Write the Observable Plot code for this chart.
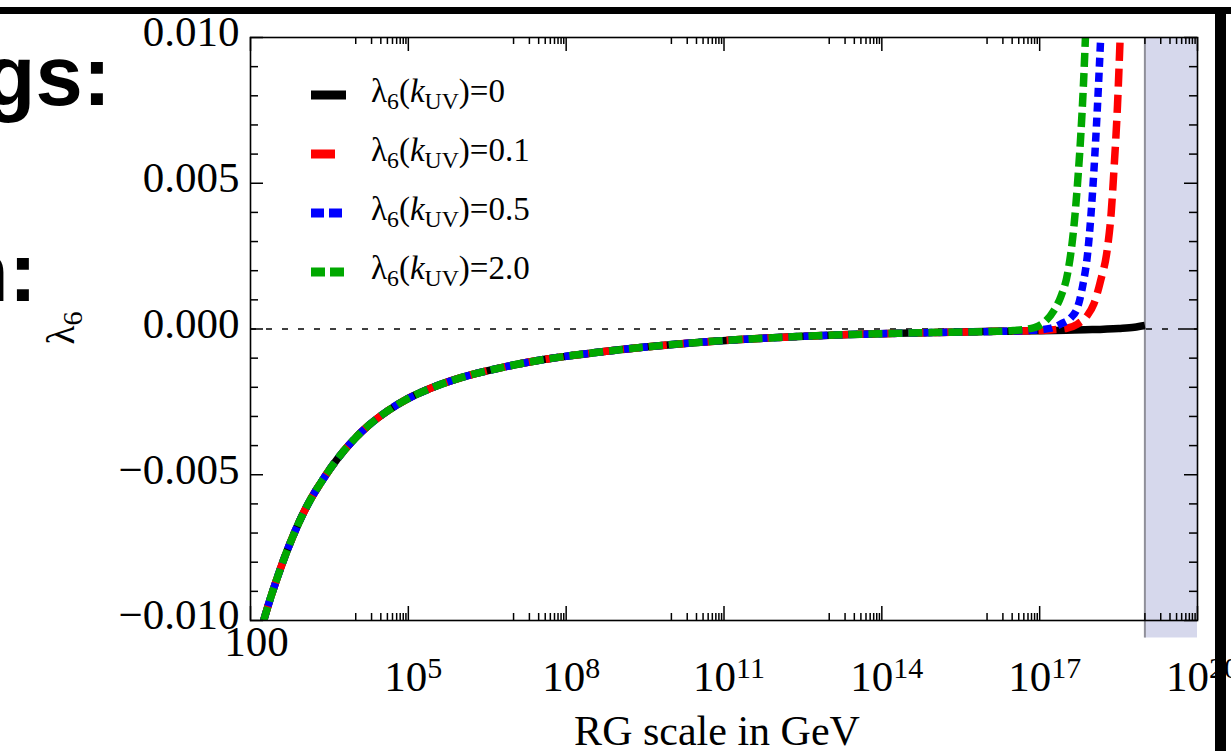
<!DOCTYPE html>
<html><head><meta charset="utf-8">
<script src="https://cdn.jsdelivr.net/npm/d3@7"></script>
<script src="https://cdn.jsdelivr.net/npm/@observablehq/plot@0.6"></script>
<style>
html,body{margin:0;padding:0;background:#fff;overflow:hidden}
#wrap{position:relative;width:1231px;height:751px;overflow:hidden}
#wrap svg.plot{position:absolute;left:0;top:0}
.ov{position:absolute;white-space:nowrap;color:#000}
.serif{font-family:"Liberation Serif","Times New Roman",serif}
.sans{font-family:"Liberation Sans",Arial,sans-serif;font-weight:bold}
.sub{font-size:0.72em;position:relative;top:0.28em}
</style></head><body><div id="wrap"></div>
<script>
// ---- data (log10 of RG scale in GeV, lambda6 value) ----
const commonLog = [2.25,2.35,2.50,2.65,2.80,2.95,3.15,3.37,3.65,3.94,4.25,4.59,5.0,5.4,6.0,6.73,7.6,8.6,9.5,10.5,11.5,12.4,13.4,14.3,15.3,16.2];
const commonVal = [-0.0100,-0.00940,-0.00858,-0.00782,-0.00714,-0.00652,-0.00582,-0.00518,-0.00446,-0.00384,-0.00330,-0.00283,-0.00238,-0.00205,-0.00167,-0.00134,-0.00104,-0.00080,-0.00062,-0.00046,-0.00034,-0.00026,-0.00019,-0.00015,-0.00011,-0.00008];
const blackTailLog = [17.0,17.5,18.0,18.5,18.8,19.0];
const blackTailVal = [-0.00006,-0.00004,-0.00002,0.00002,0.00006,0.00012];
const redTailLog = [17.0,17.5,17.72,17.9,18.03,18.15,18.29,18.36,18.41,18.48,18.53];
const redTailVal = [-0.00005,0.00002,0.00017,0.00045,0.00086,0.0016,0.0028,0.0040,0.0054,0.0077,0.0100];
const blueTailLog = [16.8,17.2,17.4,17.6,17.72,17.82,17.91,17.97,18.03,18.10,18.16];
const blueTailVal = [-0.00005,0.00002,0.00017,0.0004,0.00074,0.0015,0.00257,0.0038,0.0054,0.0077,0.0100];
const greenTailLog = [16.5,16.9,17.1,17.27,17.4,17.53,17.65,17.72,17.78,17.83,17.87];
const greenTailVal = [-0.00005,0.00005,0.00025,0.00063,0.0011,0.0019,0.0035,0.0050,0.0066,0.0083,0.0100];

const seriesLabels = ["0","0.1","0.5","2.0"];
const seriesColors = ["#000000","#ff0000","#0000ff","#00a800"];
const seriesDash = [null,"18,8","9,6","14,6"];
const legendDash = [null,"24,20","13,5","14,5"];

const xMajorExp = [2,5,8,11,14,17,20];
const xMinorExp = [4,7,10,13,16,19];
const minorMult = [1,2,3,4,5,6,7,8,9];
const yMajor = [-0.010,-0.005,0,0.005,0.010];
const yMinor = [-0.009,-0.008,-0.007,-0.006,-0.004,-0.003,-0.002,-0.001,0.001,0.002,0.003,0.004,0.006,0.007,0.008,0.009];
const shadeX = [1e19,1e20];
const shadeY = [-0.0106,0.0100];

// ---- layout ----
const W = 1231, H = 751;
const mL = 250, mR = 34, mT = 37, mB = 131;
const pW = W - mL - mR, pH = H - mT - mB;

function build(logs, vals){ return logs.map((l,i)=>({k: 10**l, v: vals[i]})); }
const tails = [[blackTailLog,blackTailVal],[redTailLog,redTailVal],[blueTailLog,blueTailVal],[greenTailLog,greenTailVal]];
const series = tails.map(([l,v]) => build(commonLog.concat(l), commonVal.concat(v)));

const xMajor = xMajorExp.map(e => 10**e);
const xMinor = xMinorExp.flatMap(e => minorMult.map(m => m * 10**e));

const serif = '"Liberation Serif","Times New Roman",serif';

const lines = series.map((d,i) => Plot.line(d, {
  x: "k", y: "v", stroke: seriesColors[i], strokeWidth: 7.5,
  strokeDasharray: seriesDash[i] ?? undefined, strokeLinecap: "butt",
  curve: "monotone-x", clip: true
}));

const chart = Plot.plot({
  width: W, height: H,
  marginLeft: mL, marginRight: mR, marginTop: mT, marginBottom: mB,
  style: {background: "transparent", overflow: "visible"},
  x: {type: "log", domain: [1e2, 1e20]},
  y: {domain: [-0.01, 0.01]},
  marks: [
    Plot.rect([{x1: shadeX[0], x2: shadeX[1], y1: shadeY[0], y2: shadeY[1]}], {x1:"x1", x2:"x2", y1:"y1", y2:"y2", fill: "#d6d8ec"}),
    Plot.ruleX([shadeX[0]], {y1: shadeY[0], y2: shadeY[1], stroke: "#8f8f99", strokeWidth: 2}),
    Plot.ruleY([0], {stroke: "#000", strokeWidth: 1.6, strokeDasharray: "6,10"}),
    ...lines,
    Plot.frame({stroke: "#000", strokeWidth: 1.6}),
    // y ticks (left & right, inward)
    Plot.tickY(yMajor, {y: d => d, insetRight: pW - 13, strokeWidth: 1.5}),
    Plot.tickY(yMinor, {y: d => d, insetRight: pW - 8, strokeWidth: 1.5}),
    Plot.tickY(yMajor, {y: d => d, insetLeft: pW - 13, strokeWidth: 1.5}),
    Plot.tickY(yMinor, {y: d => d, insetLeft: pW - 8, strokeWidth: 1.5}),
    // x ticks (bottom & top, inward)
    Plot.tickX(xMajor, {x: d => d, insetTop: pH - 14, strokeWidth: 1.5}),
    Plot.tickX(xMinor, {x: d => d, insetTop: pH - 7, strokeWidth: 1.5}),
    Plot.tickX(xMajor, {x: d => d, insetBottom: pH - 14, strokeWidth: 1.5}),
    Plot.tickX(xMinor, {x: d => d, insetBottom: pH - 7, strokeWidth: 1.5}),
    // axis labels
    Plot.axisY({ticks: yMajor, tickSize: 0, tickPadding: 11, dy: -5, label: null,
      tickFormat: d3.format(".3f"), fontSize: 43, fontFamily: serif, fill: "#000"}),
    Plot.axisX({ticks: [xMajor[0]], tickSize: 0, tickPadding: 5, dx: 6, label: null,
      tickFormat: () => "100", fontSize: 43, fontFamily: serif, fill: "#000"}),
    Plot.axisX({ticks: xMajor.slice(1), tickSize: 0, tickPadding: 40, dx: 5, label: null,
      tickFormat: d => "10^" + Math.round(Math.log10(d)), fontSize: 43, fontFamily: serif, fill: "#000"})
  ]
});

// superscripts for powers of ten
const NS = "http://www.w3.org/2000/svg";
chart.querySelectorAll('[aria-label="x-axis tick label"] text').forEach(t => {
  const s = t.textContent;
  if (s.includes("^")) {
    const [b, e] = s.split("^");
    t.textContent = "";
    const t1 = document.createElementNS(NS, "tspan"); t1.textContent = b;
    const t2 = document.createElementNS(NS, "tspan"); t2.textContent = e;
    t2.setAttribute("dy", "-0.42em"); t2.setAttribute("font-size", "30");
    t.append(t1, t2);
  }
});

const wrap = document.getElementById("wrap");
wrap.appendChild(chart);

// overlays: slide fragments, frame border, axis titles, legend
function ov(html, css, cls){ const d = document.createElement("div"); d.className = "ov " + (cls||""); d.innerHTML = html; d.style.cssText += css; wrap.appendChild(d); return d; }

ov("gs:", "right:1120px;top:33px;font-size:85px;line-height:85px;", "sans");
ov("n:", "right:1194px;top:229px;font-size:85px;line-height:85px;", "sans");
ov("", "left:0;top:7px;width:1231px;height:7px;background:#000;");
ov("", "left:1215px;top:7px;width:11px;height:744px;background:#000;");

ov("RG scale in GeV", "left:717px;top:710px;font-size:42px;line-height:42px;transform:translateX(-50%);", "serif");
ov("λ<span class='sub'>6</span>", "left:62px;top:328px;font-size:39px;line-height:39px;transform:translate(-50%,-50%) rotate(-90deg);", "serif");

const rowBase = [102, 161, 220, 279];
seriesLabels.forEach((lab, i) => {
  const cy = rowBase[i] - 7;
  const dash = legendDash[i] ? `stroke-dasharray="${legendDash[i]}"` : "";
  ov(`<svg width="40" height="12"><line x1="0" y1="6" x2="35" y2="6" stroke="${seriesColors[i]}" stroke-width="9" ${dash}/></svg>`,
     `left:311px;top:${cy-6}px;line-height:0;`);
  ov(`λ<span class='sub'>6</span>(<i>k</i><span class='sub'>UV</span>)=${lab}`,
     `left:371px;top:${rowBase[i]-27}px;font-size:33px;line-height:33px;`, "serif");
});
</script></body></html>
